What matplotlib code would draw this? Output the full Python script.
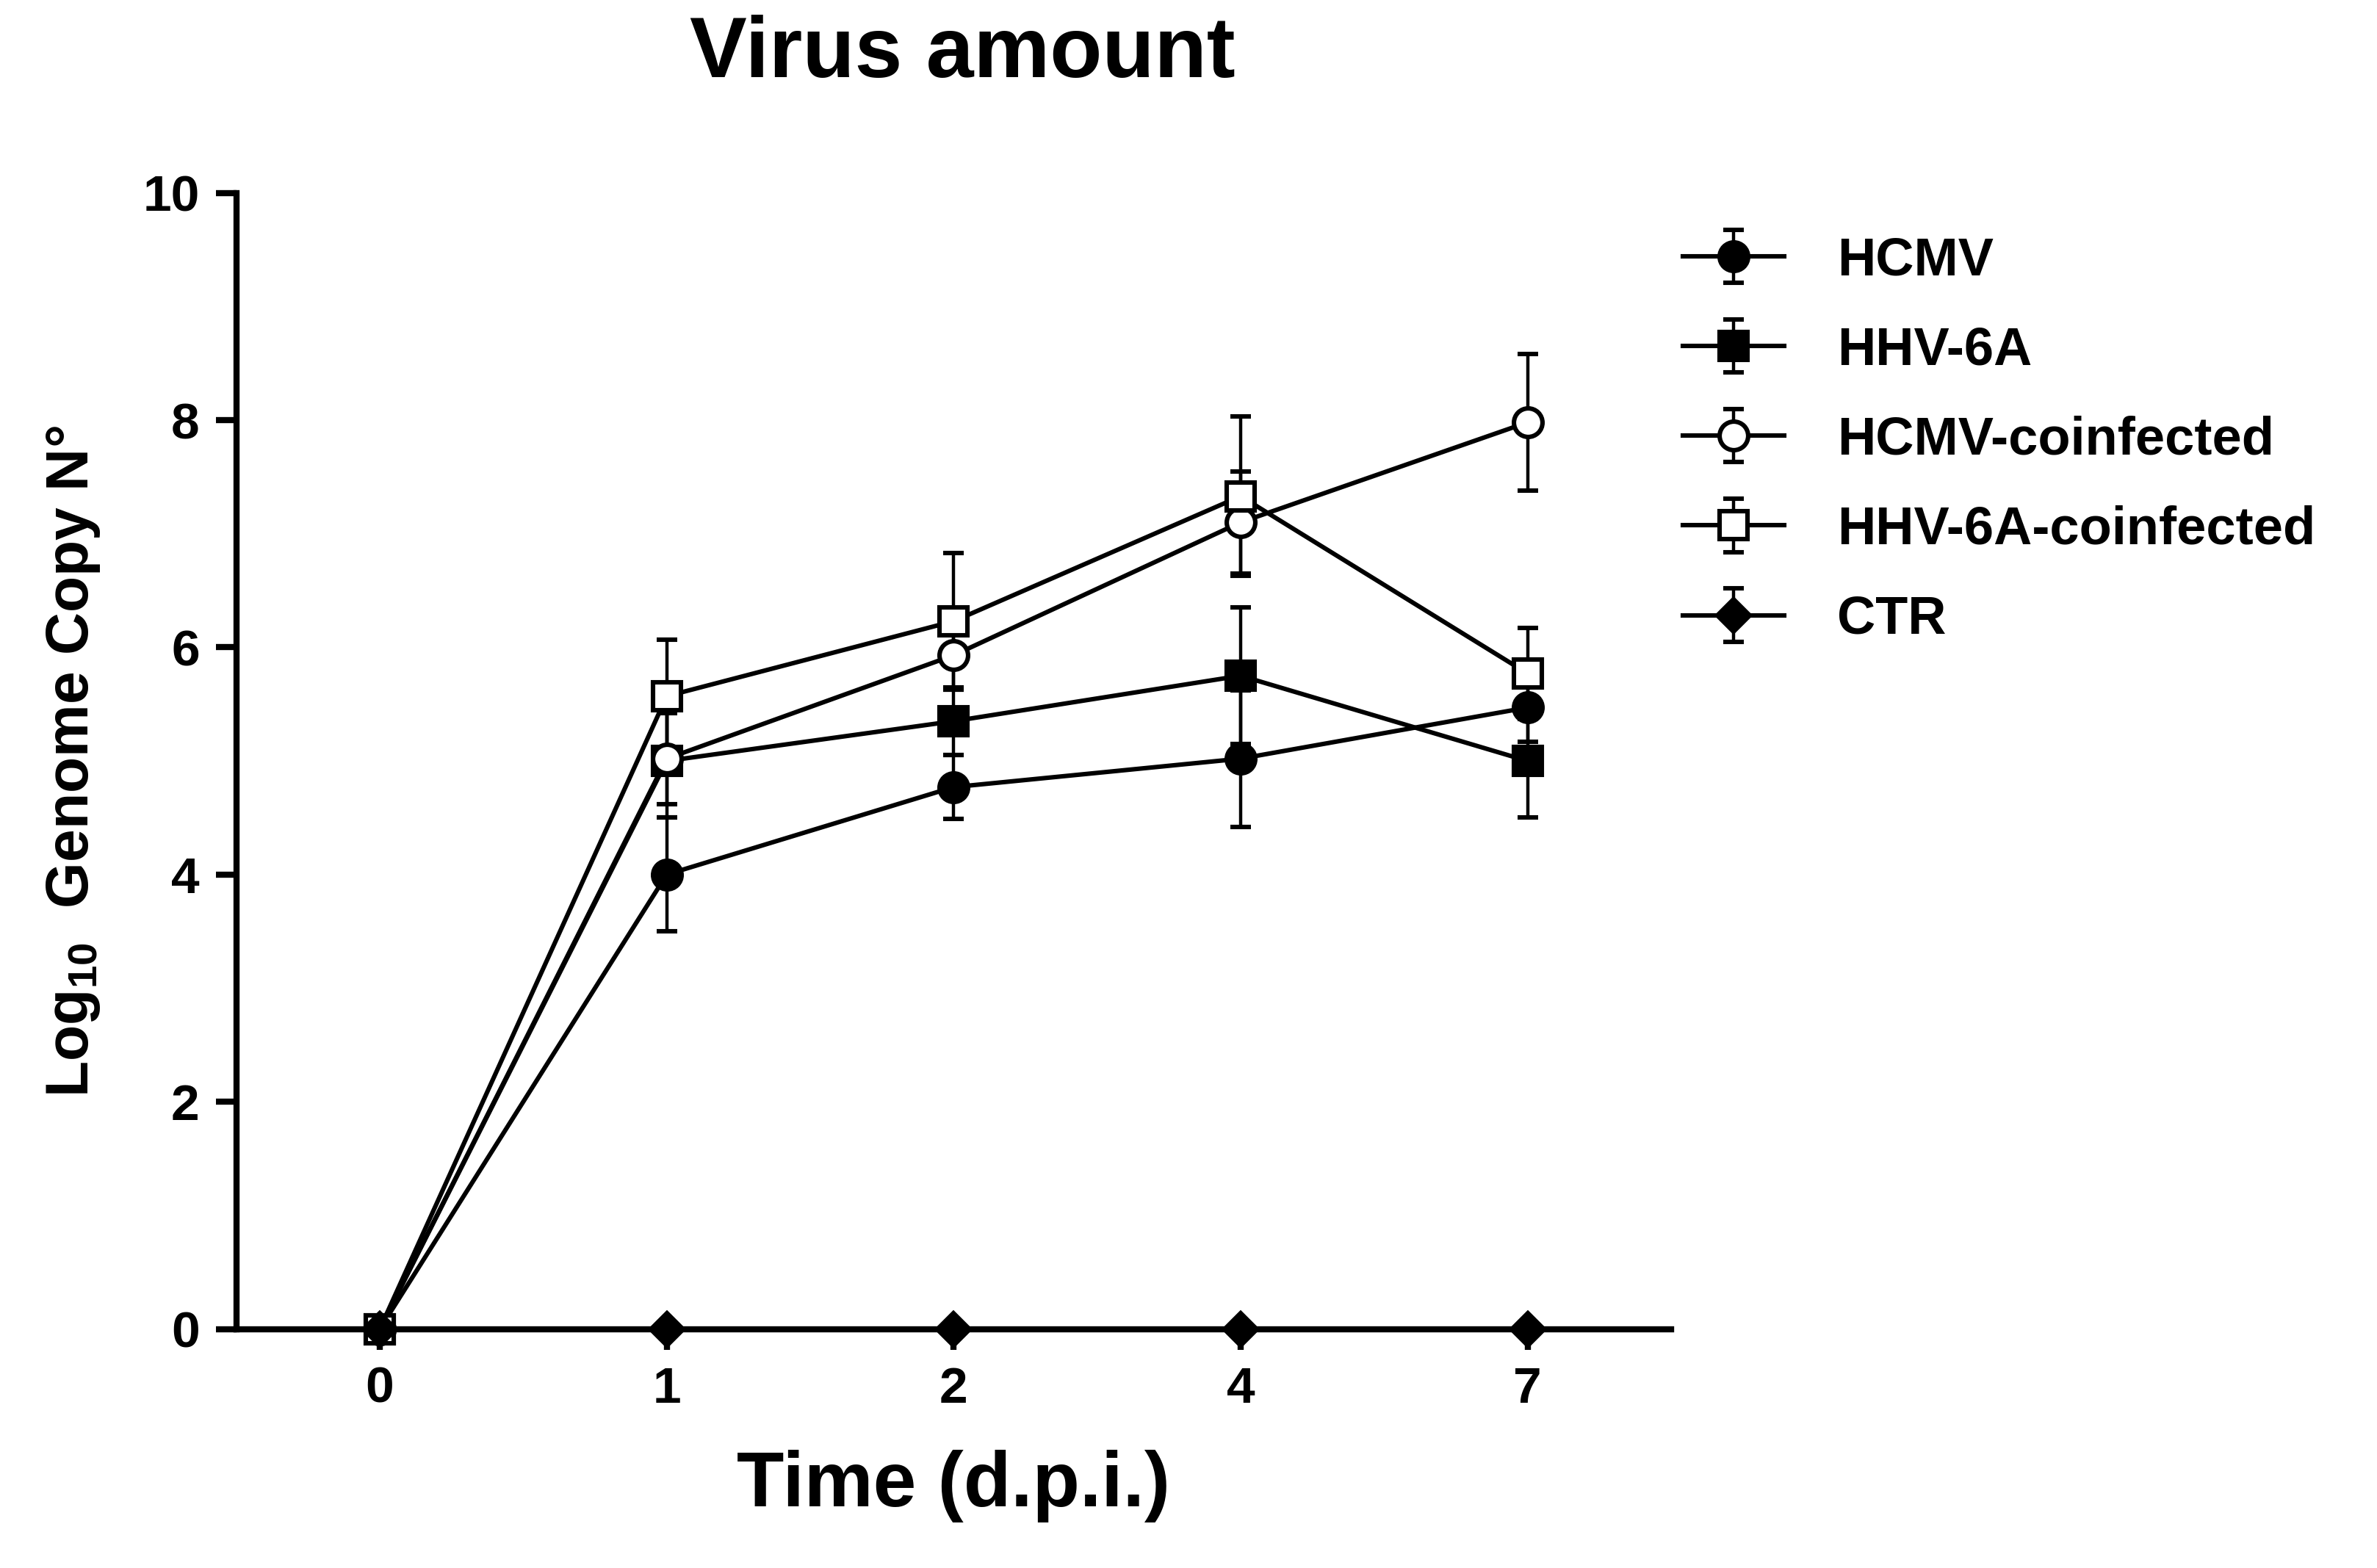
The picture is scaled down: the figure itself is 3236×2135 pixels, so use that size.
import matplotlib
matplotlib.use("Agg")
import matplotlib.pyplot as plt
import numpy as np

plt.rcParams['font.family'] = ['Liberation Sans', 'DejaVu Sans']
plt.rcParams['font.weight'] = 'bold'
plt.rcParams['mathtext.fontset'] = 'custom'
plt.rcParams['mathtext.rm'] = 'Liberation Sans:bold'
plt.rcParams['mathtext.bf'] = 'Liberation Sans:bold'
plt.rcParams['mathtext.default'] = 'bf'

time_labels = ["0", "1", "2", "4", "7"]
series_names = ["HCMV", "HHV-6A", "HCMV-coinfected", "HHV-6A-coinfected", "CTR"]
hcmv = [0, 4.0, 4.77, 5.02, 5.47]
hcmv_err = [0, 0.5, 0.28, 0.6, 0.3]
hhv6a = [0, 5.0, 5.35, 5.75, 5.0]
hhv6a_err = [0, 0.5, 0.3, 0.6, 0.5]
hcmv_co = [0, 5.02, 5.93, 7.1, 7.98]
hcmv_co_err = [0, 0.4, 0.3, 0.45, 0.6]
hhv6a_co = [0, 5.57, 6.23, 7.33, 5.77]
hhv6a_co_err = [0, 0.5, 0.6, 0.7, 0.4]
ctr = [0, 0, 0, 0, 0]
ctr_err = [0, 0, 0, 0, 0]

fig = plt.figure(figsize=(16.18, 10.675), dpi=200)
ax = fig.add_axes([0.0994, 0.1524, 0.6036, 0.7246])
x = np.arange(len(time_labels))
styles = [('o', 'black'), ('s', 'black'), ('o', 'white'), ('s', 'white'), ('D', 'black')]
data = [(hcmv, hcmv_err), (hhv6a, hhv6a_err), (hcmv_co, hcmv_co_err), (hhv6a_co, hhv6a_co_err), (ctr, ctr_err)]
for name, (y, e), (m, fc) in zip(series_names, data, styles):
    ax.errorbar(x, y, yerr=e, color='black', marker=m, mfc=fc, mec='black', mew=2.2,
                ms=14 if m != 'D' else 11, lw=2.2, elinewidth=1.6, capsize=5, capthick=1.6,
                label=name, clip_on=False, zorder=3)
ax.set_xlim(-0.5, 4.5)
ax.set_ylim(0, 10)
ax.set_xticks(x)
ax.set_xticklabels(time_labels)
ax.set_yticks([0, 2, 4, 6, 8, 10])
for s in ['top', 'right']:
    ax.spines[s].set_visible(False)
for s in ['left', 'bottom']:
    ax.spines[s].set_linewidth(3)
ax.tick_params(width=3, length=10, labelsize=25, pad=8)
for t in ax.get_xticklabels() + ax.get_yticklabels():
    t.set_fontweight('bold')
ax.set_xlabel("Time (d.p.i.)", fontsize=38, fontweight='bold', labelpad=18)
ax.set_ylabel(r"Log$_{10}$  Genome Copy N°", fontsize=29, fontweight='bold', labelpad=20)
fig.text(0.405, 0.965, "Virus amount", fontsize=42, fontweight='bold', ha='center', va='center')
leg = ax.legend(loc='upper left', bbox_to_anchor=(0.688, 0.88), bbox_transform=fig.transFigure,
                frameon=False, fontsize=26, handlelength=1.9, labelspacing=0.75, handletextpad=1.0)
for t in leg.get_texts():
    t.set_fontweight('bold')
fig.savefig("out.png", dpi=200)
